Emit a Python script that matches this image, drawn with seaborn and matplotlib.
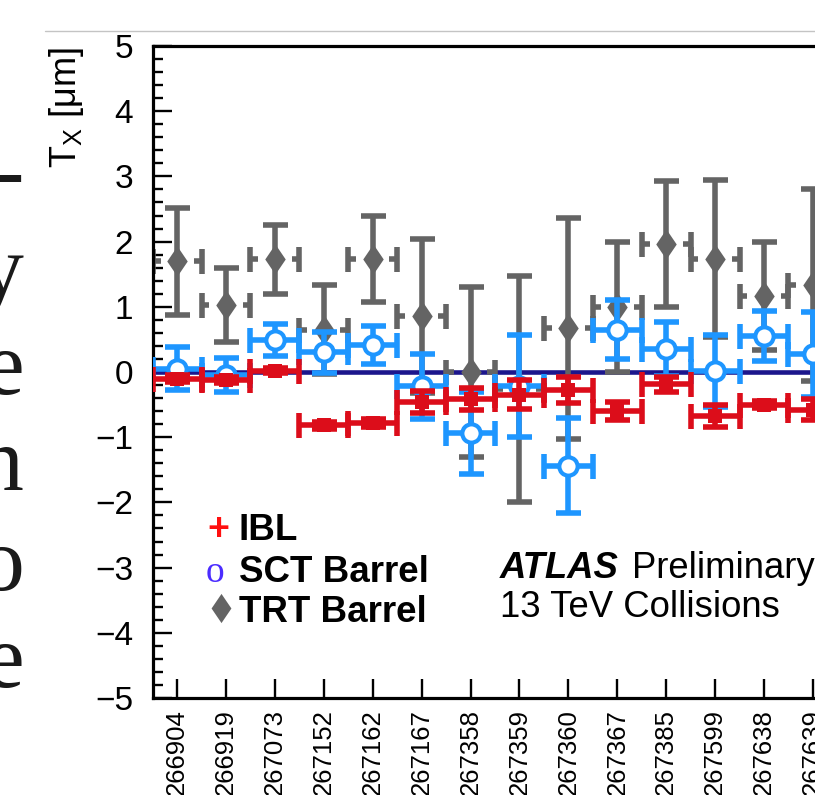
import matplotlib
matplotlib.use("Agg")
import matplotlib.pyplot as plt
import seaborn as sns
import numpy as np
import pandas as pd
from matplotlib.lines import Line2D
from matplotlib.ticker import MultipleLocator

# ---------------- data ----------------
runs = ["266904", "266919", "267073", "267152", "267162", "267167", "267358",
        "267359", "267360", "267367", "267385", "267599", "267638", "267639"]

ibl_val = [-0.10, -0.12, 0.02, -0.82, -0.78, -0.46, -0.42, -0.35, -0.27, -0.60, -0.19, -0.67, -0.50, -0.58]
ibl_err = [0.05, 0.05, 0.04, 0.06, 0.06, 0.17, 0.17, 0.22, 0.20, 0.14, 0.11, 0.17, 0.05, 0.16]

sct_val = [0.05, -0.05, 0.49, 0.30, 0.42, -0.22, -0.93, -0.21, -1.44, 0.65, 0.35, 0.01, 0.55, 0.27]
sct_err = [0.33, 0.26, 0.24, 0.31, 0.29, 0.50, 0.63, 0.78, 0.73, 0.45, 0.41, 0.55, 0.38, 0.65]

trt_val = [1.70, 1.03, 1.73, 0.65, 1.74, 0.86, 0.00, -0.26, 0.67, 1.00, 1.96, 1.74, 1.17, 1.33]
trt_err = [0.82, 0.57, 0.53, 0.68, 0.66, 1.18, 1.30, 1.74, 1.69, 1.00, 0.97, 1.21, 0.83, 1.47]

slide_letters = ["-", "y", "e", "n", "o", "e"]

legend_labels = ["IBL", "SCT Barrel", "TRT Barrel"]

# ---------------- style ----------------
RED = "#dc0d1a"
BLUE = "#1e96ff"
GRAY = "#646464"
NAVY = "#1c168c"

sns.set_style("white")
plt.rcParams["font.family"] = ["Liberation Sans", "DejaVu Sans"]
plt.rcParams["mathtext.fontset"] = "custom"
plt.rcParams["mathtext.rm"] = "Liberation Sans"
plt.rcParams["mathtext.it"] = "Liberation Sans:italic"
for k in ["text.color", "axes.labelcolor", "xtick.color", "ytick.color"]:
    plt.rcParams[k] = "black"

DIAMOND = [(0, 1), (0.68, 0), (0, -1), (-0.68, 0), (0, 1)]

W, H = 815, 795
fig = plt.figure(figsize=(W / 100, H / 100), dpi=100)
fig.patch.set_facecolor("white")

binpx = 48.9
left_px, top_px, bot_px = 152.7, 46, 698
nbins = 15
ax = fig.add_axes([left_px / W, 1 - bot_px / H, binpx * nbins / W, (bot_px - top_px) / H])

df = pd.DataFrame({"pos": np.arange(len(runs)), "run": runs,
                   "ibl": ibl_val, "ibl_e": ibl_err,
                   "sct": sct_val, "sct_e": sct_err,
                   "trt": trt_val, "trt_e": trt_err})
x = df["pos"].to_numpy()

LW = 4.0
CAP = 9
# zero line
ax.axhline(0, color=NAVY, lw=3.3, zorder=1)

# TRT: vertical errors, horizontal stubs with gap
ax.errorbar(x, df["trt"], yerr=df["trt_e"], fmt="none", ecolor=GRAY,
            elinewidth=LW, capsize=CAP, capthick=LW, zorder=2)
ax.errorbar(x, df["trt"], xerr=0.5, fmt="none", ecolor=GRAY,
            elinewidth=0, capsize=CAP, capthick=LW, zorder=2)
ax.hlines(df["trt"], x - 0.5, x - 0.34, color=GRAY, lw=LW, zorder=2)
ax.hlines(df["trt"], x + 0.34, x + 0.5, color=GRAY, lw=LW, zorder=2)
sns.scatterplot(data=df, x="pos", y="trt", marker=DIAMOND, s=470, color=GRAY,
                linewidth=0, ax=ax, zorder=2.5, legend=False)

# SCT
ax.errorbar(x, df["sct"], xerr=0.5, yerr=df["sct_e"], fmt="none", ecolor=BLUE,
            elinewidth=LW, capsize=CAP, capthick=LW, zorder=3)
sns.scatterplot(data=df, x="pos", y="sct", marker="o", s=175, color=BLUE,
                linewidth=3.0, ax=ax, zorder=3.5, legend=False)
coll = ax.collections[-1]
coll.set_facecolor("white")
coll.set_edgecolor(BLUE)

# IBL
ax.errorbar(x, df["ibl"], xerr=0.5, yerr=df["ibl_e"], fmt="none", ecolor=RED,
            elinewidth=LW, capsize=CAP, capthick=LW, zorder=4)
sns.scatterplot(data=df, x="pos", y="ibl", marker="s", s=95, color=RED,
                linewidth=0, ax=ax, zorder=4.5, legend=False)

# axes
ax.set_xlim(-0.5, nbins - 0.5)
ax.set_ylim(-5, 5)
ax.set_xlabel("")
ax.set_ylabel("")
ax.set_xticks(x)
ax.set_xticklabels(runs, rotation=90, fontsize=18.5)
ax.yaxis.set_major_locator(MultipleLocator(1))
ax.yaxis.set_minor_locator(MultipleLocator(0.2))
ax.tick_params(axis="y", which="major", direction="in", length=14, width=1.7,
               labelsize=24, pad=14, left=True, right=False)
ax.tick_params(axis="y", which="minor", direction="in", length=7, width=1.7,
               left=True, right=False)
ax.tick_params(axis="x", which="major", direction="in", length=14, width=1.7,
               pad=8, bottom=True, top=False)
ax.tick_params(axis="x", which="minor", bottom=False, top=False)
for s in ax.spines.values():
    s.set_color("black")
    s.set_linewidth(2.3)
    s.set_visible(True)

# y label
fig.text(47 / W, 1 - 47 / H, r"$\mathregular{T_X}$ [μm]", rotation=90,
         ha="left", va="top", fontsize=26)

# legend
legend_base = [540, 582, 622]
for lab, b in zip(legend_labels, legend_base):
    fig.text(239 / W, 1 - b / H, lab, fontsize=26.5, weight="bold", va="baseline", ha="left")
fig.text(218 / W, 1 - 540 / H, "+", fontsize=27, weight="bold", color="#ff1010",
         ha="center", va="baseline")
fig.text(215 / W, 1 - 582 / H, "o", fontsize=27, color="#4b2cff",
         family="Liberation Serif", ha="center", va="baseline")
fig.add_artist(Line2D([221 / W], [1 - 608 / H], marker=DIAMOND, markersize=21,
                      color=GRAY, linestyle="none", markeredgewidth=0,
                      transform=fig.transFigure))

# ATLAS label
fig.text(500 / W, 1 - 578 / H, "ATLAS", fontsize=26.3, weight="bold", style="italic",
         va="baseline", ha="left")
fig.text(632 / W, 1 - 578 / H, "Preliminary", fontsize=26.3, va="baseline", ha="left")
fig.text(500 / W, 1 - 617 / H, "13 TeV Collisions", fontsize=26.3, va="baseline", ha="left")

# slide fragments
baselines = [200, 298, 394, 490, 590, 687]
for ch, b in zip(slide_letters, baselines):
    fig.text(24 / W, 1 - b / H, ch, fontsize=66, family="Liberation Serif",
             color="#1a1a1a", ha="right", va="baseline")

# slide rule
fig.add_artist(Line2D([45 / W, 1.0], [1 - 31 / H, 1 - 31 / H], color="#c4c4c4",
                      lw=1, transform=fig.transFigure))

fig.savefig("out.png", dpi=100)
